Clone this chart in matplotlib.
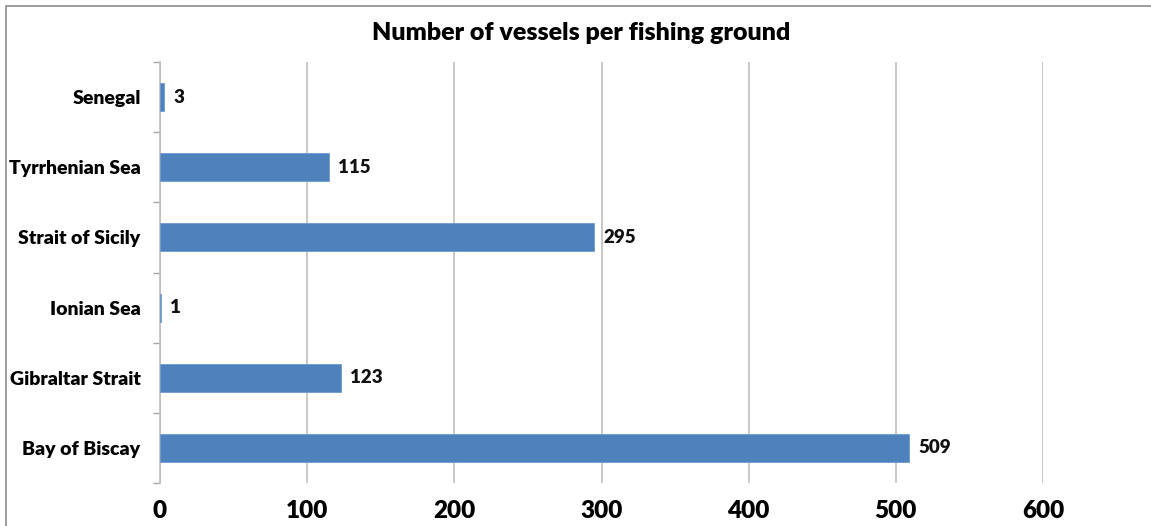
import matplotlib
matplotlib.use("Agg")
import matplotlib.pyplot as plt
from matplotlib.patches import Rectangle

categories = ["Bay of Biscay", "Gibraltar Strait", "Ionian Sea", "Strait of Sicily", "Tyrrhenian Sea", "Senegal"]
values = [509, 123, 1, 295, 115, 3]
xticks = [0, 100, 200, 300, 400, 500, 600]
title = "Number of vessels per fishing ground"

plt.rcParams['font.family'] = ['Lato', 'DejaVu Sans']

W, H = 1151, 526
fig = plt.figure(figsize=(W / 100, H / 100), dpi=100)
ax = fig.add_axes([160 / W, 1 - 483 / H, (1043 - 160) / W, (483 - 62) / H])

ypos = list(range(len(categories)))
ax.barh(ypos, values, height=0.4, color="#4f81bd", edgecolor="#6f9bd1", linewidth=0.6, zorder=3)
for y, v in zip(ypos, values):
    ax.annotate(str(v), (v, y), xytext=(6.5, 0), textcoords="offset points",
                va="center", ha="left", fontsize=13.5, fontweight="heavy", color="#111111")

ax.set_xlim(0, 600)
ax.set_ylim(-0.5, len(categories) - 0.5)
ax.set_xticks(xticks)
ax.set_xticklabels([str(t) for t in xticks], fontsize=17.5, fontweight="heavy")
ax.set_yticks(ypos)
ax.set_yticklabels(categories, fontsize=14, fontweight="heavy")
ax.tick_params(axis="y", length=0, pad=14)
ax.tick_params(axis="x", length=0, pad=12)
ax.set_yticks([i + 0.5 for i in range(len(categories) - 1)] + [-0.5, len(categories) - 0.5], minor=True)
ax.tick_params(axis="y", which="minor", length=5, color="#a6a6a6", width=1)

ax.grid(axis="x", color="#bfbfbf", linewidth=1.2, zorder=0)
for s in ["top", "right", "bottom"]:
    ax.spines[s].set_visible(False)
ax.spines["left"].set_color("#bfbfbf")
ax.spines["left"].set_linewidth(1.2)

fig.text(581 / W, 1 - 33 / H, title, ha="center", va="center", fontsize=18, fontweight="heavy")

fig.patches.append(Rectangle((6 / W, -0.05), 1.1, 1 - 6 / H + 0.05, transform=fig.transFigure,
                             fill=False, edgecolor="#8c8c8c", linewidth=1.2))

fig.savefig("out.png", dpi=100)
